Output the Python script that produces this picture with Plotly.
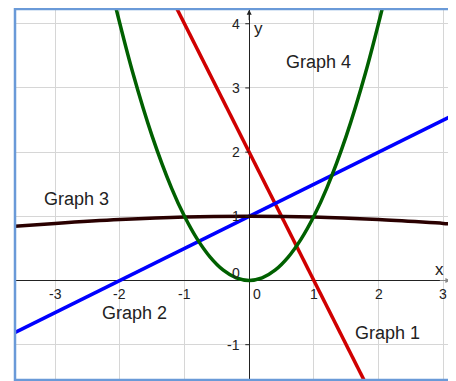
import plotly.graph_objects as go

g1_x = [-1.2, 1.9]
g1_y = [4.4, -1.8]
g2_x = [-3.7, 3.2]
g2_y = [-0.85, 2.6]

# graph 3 (dark brown), almost flat curve
g3_x = [-3.7, -3.0, -2.0, -1.0, 0.0, 1.0, 2.0, 3.0, 3.2]
g3_y = [0.84, 0.89, 0.95, 0.99, 1.0, 0.99, 0.95, 0.89, 0.88]

# graph 4 (green) parabola
g4_x = [-2.1, -1.8, -1.5, -1.2, -1.0, -0.8, -0.6, -0.4, -0.2, 0.0, 0.2, 0.4, 0.6, 0.8, 1.0, 1.2, 1.5, 1.8, 2.1]
g4_y = [4.41, 3.24, 2.25, 1.44, 1.0, 0.64, 0.36, 0.16, 0.04, 0.0, 0.04, 0.16, 0.36, 0.64, 1.0, 1.44, 2.25, 3.24, 4.41]

x_ticks = [-3, -2, -1, 0, 1, 2, 3]
x_tick_text = ["-3", "-2", "-1", "0", "1", "2", "3"]
y_ticks = [-1, 0, 1, 2, 3, 4]
y_tick_text = ["-1", "0", "1", "2", "3", "4"]

labels = ["Graph 1", "Graph 2", "Graph 3", "Graph 4"]
label_x = [1.61, -2.3, -3.21, 0.54]
label_y = [-0.81, -0.51, 1.27, 3.40]

FONT = "Liberation Sans, Arial, sans-serif"

fig = go.Figure()
fig.add_trace(go.Scatter(x=g1_x, y=g1_y, mode="lines", line=dict(color="#d00000", width=3.5)))
fig.add_trace(go.Scatter(x=g2_x, y=g2_y, mode="lines", line=dict(color="#0000ff", width=3.5)))
fig.add_trace(go.Scatter(x=g3_x, y=g3_y, mode="lines", line=dict(color="#2a0000", width=3.5, shape="spline")))
fig.add_trace(go.Scatter(x=g4_x, y=g4_y, mode="lines", line=dict(color="#006000", width=3.5, shape="spline")))

ann = []
for t, s in zip(x_ticks, x_tick_text):
    ann.append(dict(x=t, y=0, text=s, showarrow=False, yanchor="top", yshift=-3,
                    xshift=8 if t == 0 else 0, font=dict(size=14, color="#222")))
for t, s in zip(y_ticks, y_tick_text):
    ann.append(dict(x=0, y=t, text=s, showarrow=False, xanchor="right", xshift=-7,
                    yshift=8 if t == 0 else 0, font=dict(size=14, color="#222")))
for s, lx, ly in zip(labels, label_x, label_y):
    ann.append(dict(x=lx, y=ly, text=s, showarrow=False, xanchor="left",
                    font=dict(size=18, color="#222")))
# axis names and arrows
ann.append(dict(x=0, y=3.93, text="y", showarrow=False, xanchor="left", xshift=3, font=dict(size=17, color="#222")))
ann.append(dict(x=3.05, y=0, text="x", showarrow=False, yanchor="bottom", yshift=0, xanchor="right", font=dict(size=17, color="#222")))
ann.append(dict(x=0, y=4.22, ax=0, ay=12, text="", showarrow=True, arrowhead=2, arrowsize=1, arrowwidth=1, arrowcolor="#222"))
ann.append(dict(x=3.11, y=0, ax=-12, ay=0, text="", showarrow=True, arrowhead=2, arrowsize=1, arrowwidth=1, arrowcolor="#888"))

shapes = [dict(type="rect", xref="paper", yref="paper", x0=0, y0=0, x1=1, y1=1,
               line=dict(color="#6a9ad8", width=2.5))]
for t in y_ticks:
    if t != 0:
        shapes.append(dict(type="line", x0=-0.06, x1=0, y0=t, y1=t, line=dict(color="#222", width=1)))

# the page body has an 8px margin, so the figure is a bit smaller than the window
fig.update_layout(
    width=448, height=373,
    margin=dict(l=7, r=5, t=1, b=1),
    plot_bgcolor="white", paper_bgcolor="white",
    showlegend=False,
    font=dict(family=FONT),
    annotations=ann, shapes=shapes,
    xaxis=dict(range=[-3.62, 3.12], tickvals=x_ticks, showticklabels=False, showgrid=True,
               gridcolor="#d6d6d6", gridwidth=1, zeroline=True, zerolinecolor="#222",
               zerolinewidth=1, showline=False, fixedrange=True),
    yaxis=dict(range=[-1.55, 4.23], tickvals=y_ticks, showticklabels=False, showgrid=True,
               gridcolor="#d6d6d6", gridwidth=1, zeroline=True, zerolinecolor="#222",
               zerolinewidth=1, showline=False, fixedrange=True),
)

fig.write_html("out.html")
